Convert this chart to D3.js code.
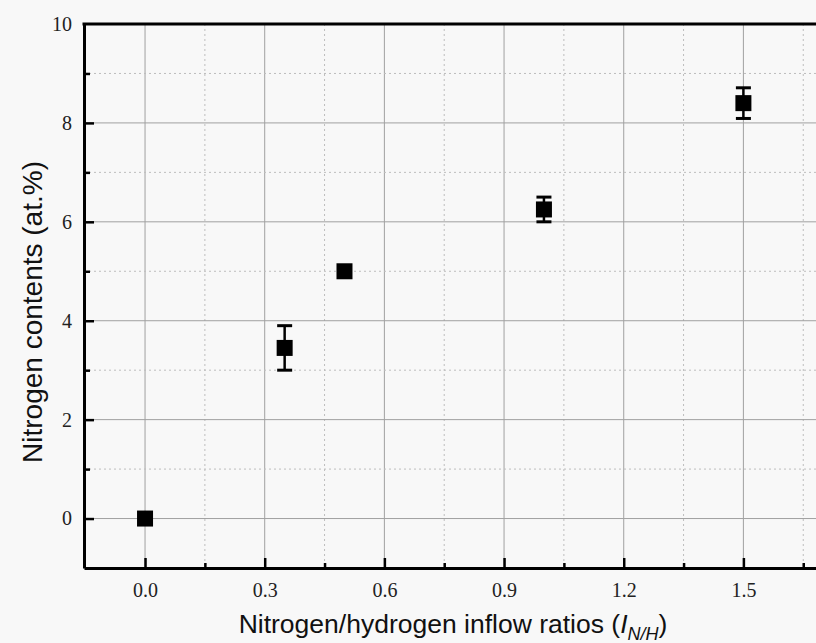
<!DOCTYPE html>
<html>
<head>
<meta charset="utf-8">
<script src="https://cdn.jsdelivr.net/npm/d3@7"></script>
<style>
  body { margin: 0; background: #f8f8f8; }
  svg { display: block; }
  .tick text { font-family: "Liberation Serif", "Times New Roman", serif; font-size: 20px; fill: #222; }
  .title { font-family: "Liberation Sans", Arial, sans-serif; font-size: 26.5px; fill: #111; }
</style>
</head>
<body>
<script>
// data
var ratios = [0, 0.35, 0.5, 1.0, 1.5];
var nitrogen = [0, 3.45, 5.0, 6.25, 8.4];
var errors = [0, 0.45, 0, 0.25, 0.31];

var xTicks = [0, 0.3, 0.6, 0.9, 1.2, 1.5];
var xMinor = [0.15, 0.45, 0.75, 1.05, 1.35, 1.65];
var yTicks = [0, 2, 4, 6, 8, 10];
var yMinor = [1, 3, 5, 7, 9];

var width = 816,
    height = 643;
var plotL = 84, plotR = 816, plotT = 24, plotB = 568;

var svg = d3.select('body').append('svg')
    .attr('width', width)
    .attr('height', height);

var x = d3.scaleLinear().domain([-0.153, 1.682]).range([plotL, plotR]);
var y = d3.scaleLinear().domain([-1, 10]).range([plotB, plotT]);

// grid
var grid = svg.append('g');
grid.selectAll('.gx').data(xTicks).enter().append('line')
    .attr('x1', function(d) { return x(d); }).attr('x2', function(d) { return x(d); })
    .attr('y1', plotT).attr('y2', plotB)
    .attr('stroke', '#a0a0a0').attr('stroke-width', 1);
grid.selectAll('.gxm').data(xMinor).enter().append('line')
    .attr('x1', function(d) { return x(d); }).attr('x2', function(d) { return x(d); })
    .attr('y1', plotT).attr('y2', plotB)
    .attr('stroke', '#bdbdbd').attr('stroke-width', 1).attr('stroke-dasharray', '2,3');
grid.selectAll('.gy').data(yTicks.slice(0, -1)).enter().append('line')
    .attr('x1', plotL).attr('x2', plotR)
    .attr('y1', function(d) { return y(d); }).attr('y2', function(d) { return y(d); })
    .attr('stroke', '#a0a0a0').attr('stroke-width', 1);
grid.selectAll('.gym').data(yMinor).enter().append('line')
    .attr('x1', plotL).attr('x2', plotR)
    .attr('y1', function(d) { return y(d); }).attr('y2', function(d) { return y(d); })
    .attr('stroke', '#bdbdbd').attr('stroke-width', 1).attr('stroke-dasharray', '2,3');

// axes
svg.append('g')
    .attr('transform', 'translate(0,' + plotB + ')')
    .call(d3.axisBottom(x).tickValues(xTicks).tickFormat(d3.format('.1f'))
      .tickSizeInner(-10).tickSizeOuter(0).tickPadding(15));
svg.append('g')
    .attr('transform', 'translate(0,' + plotB + ')')
    .call(d3.axisBottom(x).tickValues(xMinor).tickFormat('')
      .tickSizeInner(-5).tickSizeOuter(0))
    .select('.domain').remove();

var yAxis = svg.append('g')
    .attr('transform', 'translate(' + plotL + ',0)')
    .call(d3.axisLeft(y).tickValues(yTicks).tickFormat(d3.format('d'))
      .tickSizeInner(-10).tickSizeOuter(0).tickPadding(12));
svg.append('g')
    .attr('transform', 'translate(' + plotL + ',0)')
    .call(d3.axisLeft(y).tickValues(yMinor).tickFormat('')
      .tickSizeInner(-6).tickSizeOuter(0))
    .select('.domain').remove();

svg.selectAll('.domain').attr('stroke', '#000').attr('stroke-width', 3);
svg.selectAll('.tick line').attr('stroke', '#000').attr('stroke-width', 2.5);
yAxis.select('.tick:last-of-type line').remove();

// top frame line
svg.append('line')
    .attr('x1', plotL - 1.5).attr('x2', plotR)
    .attr('y1', plotT).attr('y2', plotT)
    .attr('stroke', '#000').attr('stroke-width', 3);

// error bars
var pts = ratios.map(function(r, i) { return {x: r, y: nitrogen[i], e: errors[i]}; });
var eb = svg.append('g').selectAll('g').data(pts.filter(function(d) { return d.e > 0; }))
    .enter().append('g');
eb.append('line')
    .attr('x1', function(d) { return x(d.x); }).attr('x2', function(d) { return x(d.x); })
    .attr('y1', function(d) { return y(d.y + d.e); }).attr('y2', function(d) { return y(d.y - d.e); })
    .attr('stroke', '#000').attr('stroke-width', 2.5);
[1, -1].forEach(function(s) {
  eb.append('line')
      .attr('x1', function(d) { return x(d.x) - 7.5; }).attr('x2', function(d) { return x(d.x) + 7.5; })
      .attr('y1', function(d) { return y(d.y + s * d.e); }).attr('y2', function(d) { return y(d.y + s * d.e); })
      .attr('stroke', '#000').attr('stroke-width', 3);
});

// markers
svg.append('g').selectAll('rect').data(pts).enter().append('rect')
    .attr('x', function(d) { return x(d.x) - 8; })
    .attr('y', function(d) { return y(d.y) - 8; })
    .attr('width', 16).attr('height', 16)
    .attr('fill', '#000');

// titles
var xt = svg.append('text').attr('class', 'title')
    .attr('x', 453).attr('y', 633).attr('text-anchor', 'middle');
xt.append('tspan').text('Nitrogen/hydrogen inflow ratios (');
xt.append('tspan').attr('font-style', 'italic').text('I');
xt.append('tspan').attr('font-style', 'italic').attr('font-size', '18px').attr('dy', 7).text('N/H');
xt.append('tspan').attr('dy', -7).text(')');

svg.append('text').attr('class', 'title')
    .attr('transform', 'translate(42,312) rotate(-90)')
    .attr('text-anchor', 'middle')
    .style('font-size', '28px')
    .text('Nitrogen contents (at.%)');
</script>
</body>
</html>
